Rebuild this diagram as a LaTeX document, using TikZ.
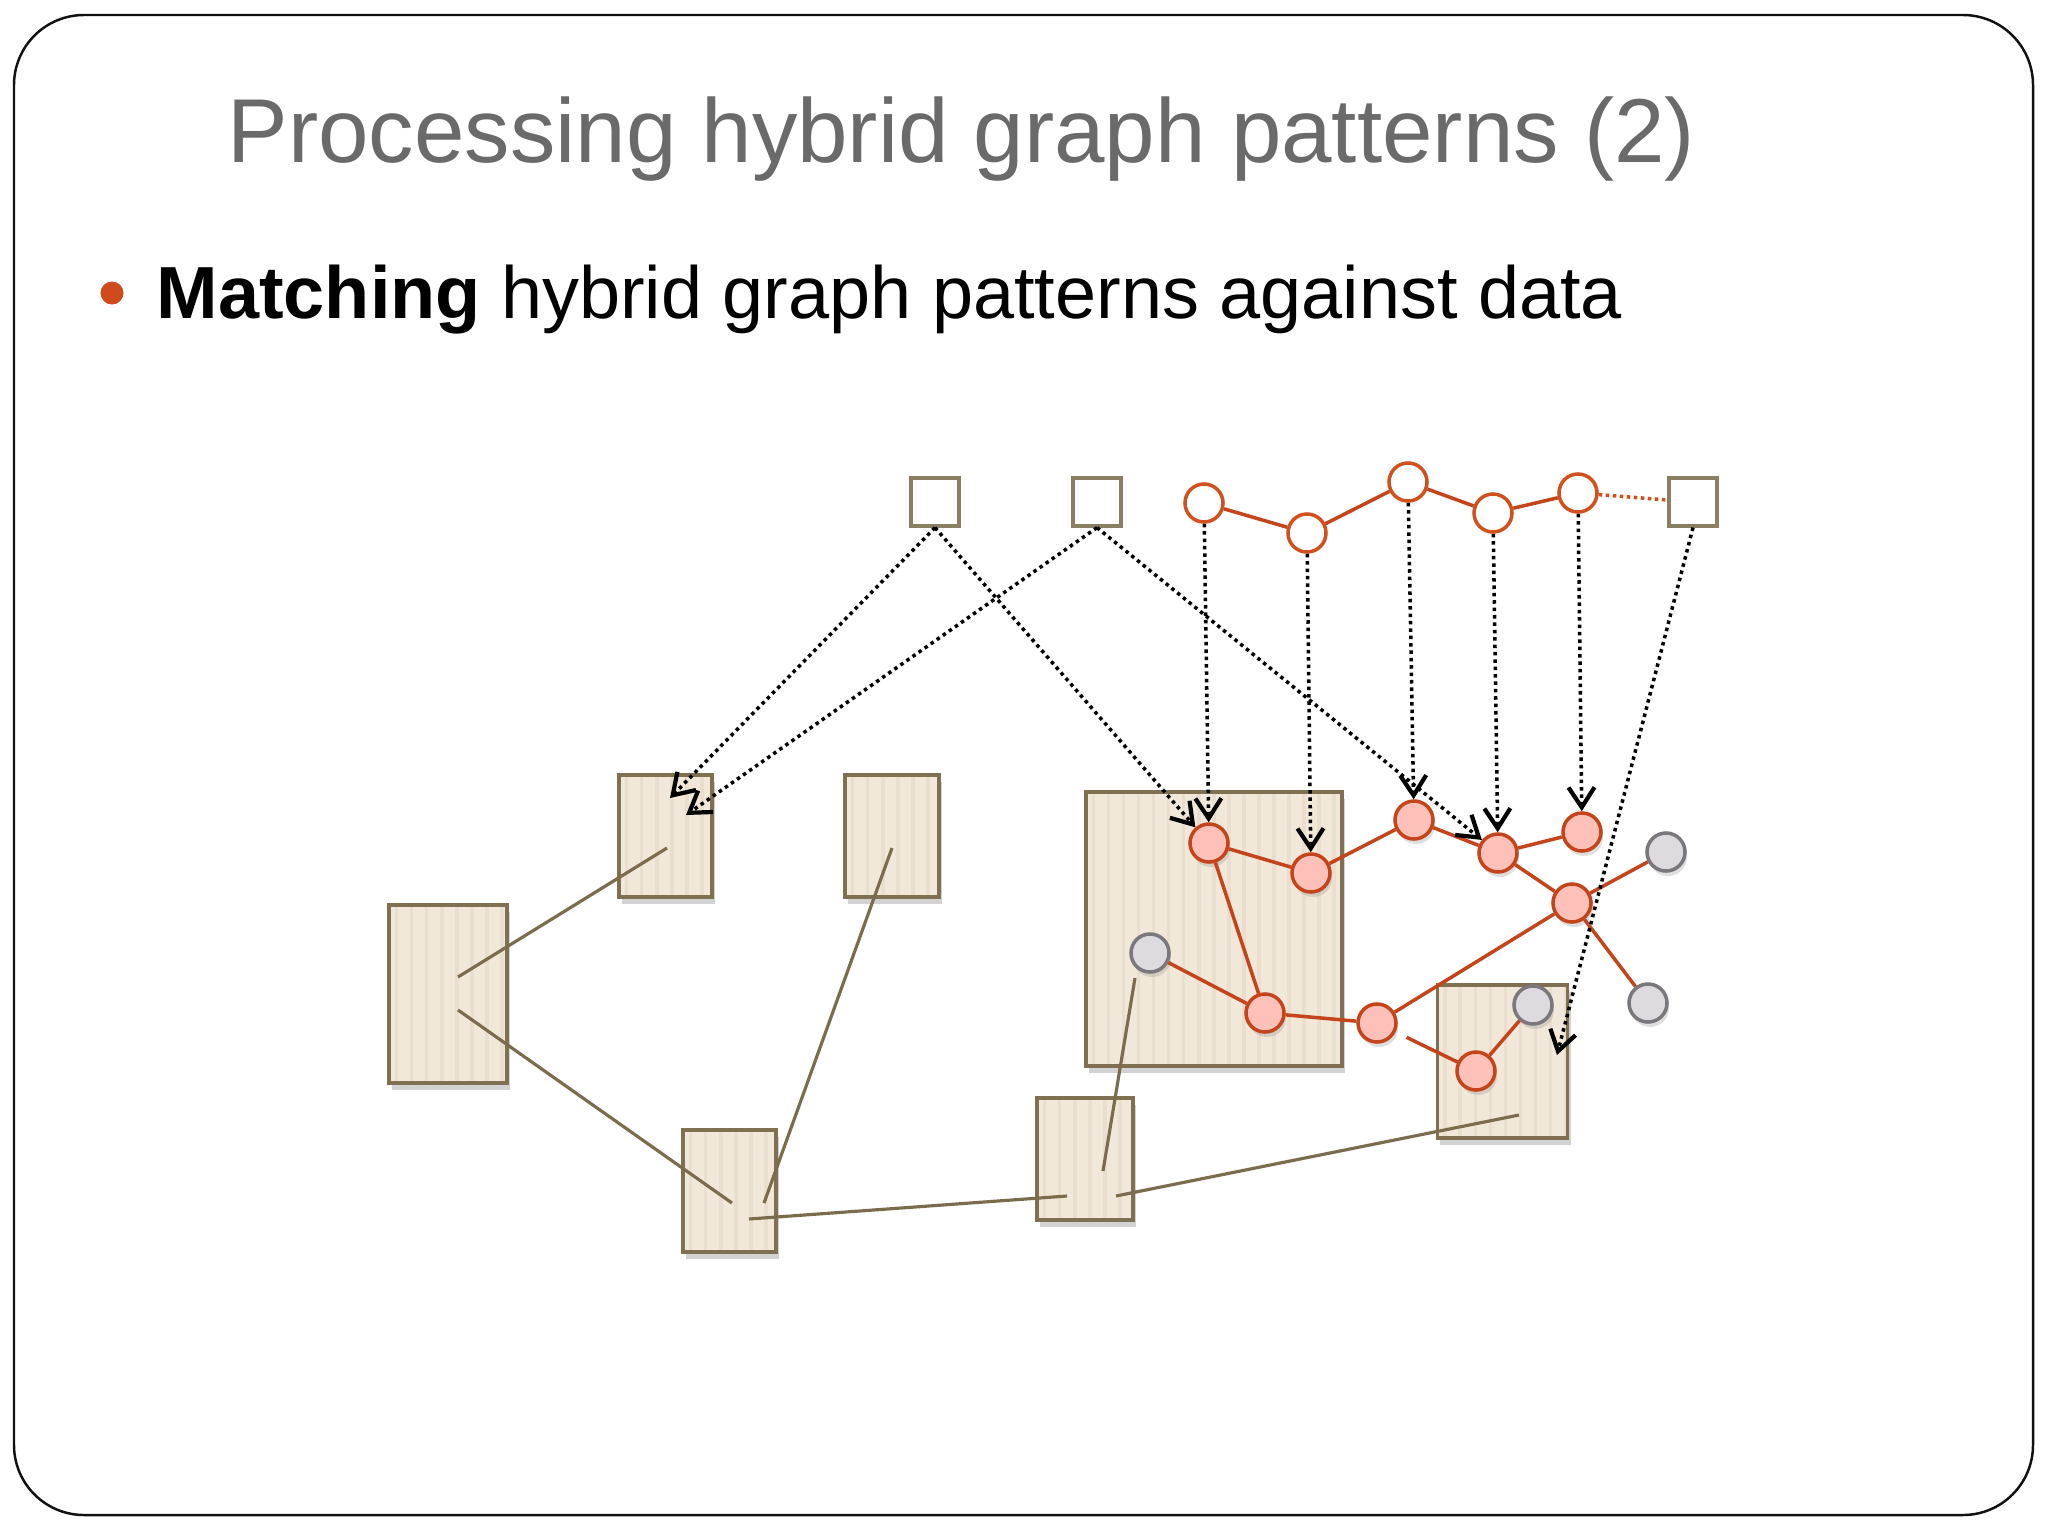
\documentclass[tikz,border=0pt]{standalone}
\usepackage{fontspec}
\setmainfont{Liberation Sans}
\usetikzlibrary{arrows.meta,shadows}
\definecolor{frameblack}{HTML}{111111}
\definecolor{titlegray}{HTML}{6A6A6A}
\definecolor{bulletorange}{HTML}{D04A1E}
\definecolor{edgeorange}{HTML}{C4451C}
\definecolor{patorange}{HTML}{D0501E}
\definecolor{pinkfill}{HTML}{FDC1B9}
\definecolor{grayfill}{HTML}{DEDBE0}
\definecolor{grayline}{HTML}{7A777D}
\definecolor{boxline}{HTML}{7E7050}
\definecolor{boxfill}{HTML}{F2E8DA}
\definecolor{stripecol}{HTML}{EADFCE}
\definecolor{sqline}{HTML}{8A7E63}
\definecolor{brownline}{HTML}{7B6C4D}
\tikzset{
  dbox/.style={rectangle, draw=boxline, line width=1pt, fill=boxfill, inner sep=0pt,
    drop shadow={shadow xshift=0.3mm, shadow yshift=-0.7mm, opacity=0.35},
    path picture={\foreach \k in {0,...,18}{\fill[stripecol] ([xshift=\k*1.5mm+0.6mm]path picture bounding box.south west) rectangle ++(0.35mm,20cm);}}},
  sq/.style={rectangle, draw=sqline, line width=0.9pt, fill=white, minimum size=4.8mm, inner sep=0pt},
  pc/.style={circle, draw=patorange, line width=1pt, fill=white, minimum size=3.8mm, inner sep=0pt},
  dc/.style={circle, draw=edgeorange, line width=1pt, fill=pinkfill, minimum size=3.8mm, inner sep=0pt,
    drop shadow={shadow xshift=0.2mm, shadow yshift=-0.5mm, opacity=0.25}},
  gc/.style={dc, draw=grayline, fill=grayfill},
  oedge/.style={draw=edgeorange, line width=1pt},
  bedge/.style={draw=brownline, line width=0.9pt},
  marrow/.style={draw=black, line width=1pt, dash pattern=on 1pt off 1.1pt,
    -{Straight Barb[length=2mm, width=2.6mm, line width=1.2pt]}},
}
\begin{document}
\begin{tikzpicture}[x=0.01cm, y=-0.01cm]
\useasboundingbox (0,0) rectangle (2048,1536);
\fill[white] (0,0) rectangle (2048,1536);
\draw[frameblack, line width=0.7pt, rounded corners=7mm] (14,15) rectangle (2033,1515);

% texts
\node[anchor=base west, inner sep=0pt, text=titlegray, font=\fontsize{25.8}{30}\selectfont] (title) at (227,162) {Processing hybrid graph patterns (2)};
\node[circle, fill=bulletorange, minimum size=2.3mm, inner sep=0pt] (bul) at (112,293) {};
\node[anchor=base west, inner sep=0pt, font=\fontsize{21}{25}\selectfont] (btext) at (156,318) {\textbf{Matching} hybrid graph patterns against data};

% data boxes
\node[dbox, minimum width=11.8mm, minimum height=17.8mm] (B0) at (448,994) {};
\node[dbox, minimum width=9.3mm, minimum height=12.2mm] (B1) at (665.5,836) {};
\node[dbox, minimum width=9.4mm, minimum height=12.2mm] (B2) at (892,836) {};
\node[dbox, minimum width=9.3mm, minimum height=12.2mm] (B3) at (729.5,1191) {};
\node[dbox, minimum width=9.6mm, minimum height=12.2mm] (B4) at (1085,1159) {};
\node[dbox, minimum width=25.6mm, minimum height=27.4mm] (B5) at (1214,929) {};
\node[dbox, minimum width=13.0mm, minimum height=15.3mm] (B6) at (1502.5,1061.5) {};

% brown connector end points
\coordinate (l1a) at (458,977);  \coordinate (l1b) at (667,848);
\coordinate (l2a) at (458,1010); \coordinate (l2b) at (732,1203);
\coordinate (l3a) at (764,1203); \coordinate (l3b) at (892,848);
\coordinate (l4a) at (749,1219); \coordinate (l4b) at (1067,1196);
\coordinate (l5a) at (1103,1171);\coordinate (l5b) at (1135,978);
\coordinate (l6a) at (1116,1196);\coordinate (l6b) at (1519,1115);
\draw[bedge] (l1a) -- (l1b);
\draw[bedge] (l2a) -- (l2b);
\draw[bedge] (l3a) -- (l3b);
\draw[bedge] (l4a) -- (l4b);
\draw[bedge] (l5a) -- (l5b);
\draw[bedge] (l6a) -- (l6b);

% pattern
\node[sq] (S1) at (935,502) {};
\node[sq] (S2) at (1097,502) {};
\node[sq] (S3) at (1693,502) {};
\node[pc] (C1) at (1204,503) {};
\node[pc] (C2) at (1307,533) {};
\node[pc] (C3) at (1408,482) {};
\node[pc] (C4) at (1493,513) {};
\node[pc] (C5) at (1578,493) {};
\draw[oedge] (C1) -- (C2);
\draw[oedge] (C2) -- (C3);
\draw[oedge] (C3) -- (C4);
\draw[oedge] (C4) -- (C5);
\draw[draw=patorange, line width=1pt, dash pattern=on 1pt off 1pt] (C5) -- (S3);

% data graph
\node[dc] (D1) at (1209,843) {};
\node[dc] (D2) at (1311,873) {};
\node[dc] (D3) at (1414,820) {};
\node[dc] (D4) at (1498,853) {};
\node[dc] (D5) at (1582,832) {};
\node[gc] (D6) at (1666,852) {};
\node[dc] (D7) at (1572,903) {};
\node[gc] (D8) at (1150,953) {};
\node[dc] (D9) at (1265,1013) {};
\node[dc] (D10) at (1377,1023) {};
\node[gc] (D11) at (1533,1005) {};
\node[dc] (D12) at (1476,1071) {};
\node[gc] (D13) at (1648,1003) {};
\draw[oedge] (D1) -- (D2);
\draw[oedge] (D2) -- (D3);
\draw[oedge] (D3) -- (D4);
\draw[oedge] (D4) -- (D5);
\draw[oedge] (D4) -- (D7);
\draw[oedge] (D7) -- (D6);
\draw[oedge] (D7) -- (D13);
\draw[oedge] (D1) -- (D9);
\draw[oedge] (D8) -- (D9);
\draw[oedge] (D9) -- (D10);
\draw[oedge] (D10) -- (D7);
\draw[oedge, shorten <=1.2mm] (D10) -- (D12);
\draw[oedge] (D12) -- (D11);

% matching arrows
\coordinate (t1) at (670,798);
\coordinate (t2) at (686,815);
\coordinate (t3) at (1557,1055);
\draw[marrow] (S1.south) -- (t1);
\draw[marrow] (S2.south) -- (t2);
\draw[marrow] (S1.south) -- (D1);
\draw[marrow] (S2.south) -- (D4);
\draw[marrow] (C1) -- (D1);
\draw[marrow] (C2) -- (D2);
\draw[marrow] (C3) -- (D3);
\draw[marrow] (C4) -- (D4);
\draw[marrow] (C5) -- (D5);
\draw[marrow] (S3.south) -- (t3);
\end{tikzpicture}
\end{document}
